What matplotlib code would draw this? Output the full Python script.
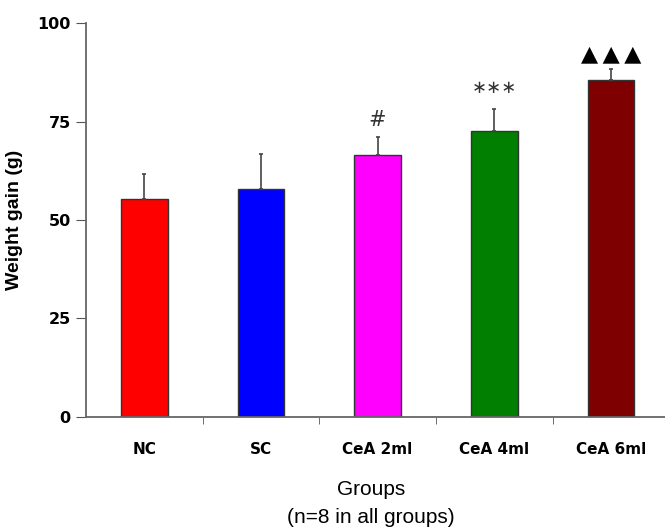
import matplotlib
matplotlib.use('Agg')
import matplotlib.pyplot as plt

plt.rcParams['font.family'] = ['Liberation Sans', 'DejaVu Sans']

groups = ['NC', 'SC', 'CeA 2ml', 'CeA 4ml', 'CeA 6ml']
means = [55.3, 58.0, 66.6, 72.6, 85.7]
errors = [6.5, 8.7, 4.6, 5.7, 2.6]
colors = ['#ff0000', '#0000ff', '#ff00ff', '#007f00', '#7f0000']
marks = ['', '', '#', '\u2217\u2217\u2217', '\u25b2\u2009\u25b2\u2009\u25b2']

fig = plt.figure(figsize=(6.65, 5.28), dpi=100)
ax = fig.add_axes([0.1293, 0.2108, 0.877, 0.745])

x = list(range(len(groups)))
ax.bar(x, means, width=0.4, color=colors, edgecolor='#333333', linewidth=1,
       yerr=[[0] * len(errors), errors], capsize=1.5,
       error_kw=dict(ecolor='#444444', elinewidth=1.2, capthick=1.2))

# significance marks above the error bars
offsets = [0, 0, 4.2, 5.3, 3.8]
sizes = [0, 0, 15, 13, 16]
for i, m in enumerate(marks):
    if not m:
        continue
    ax.text(i, means[i] + errors[i] + offsets[i], m, ha='center', va='center',
            fontsize=sizes[i], color='#333333' if i < 4 else 'black',
            family=['DejaVu Sans'])

ax.set_xlim(-0.5, 4.5)
ax.set_ylim(0, 100)
ax.set_yticks([0, 25, 50, 75, 100])
ax.set_yticklabels(['0', '25', '50', '75', '100'], fontweight='bold', fontsize=11.5,
                   family=['DejaVu Sans'])
ax.set_xticks(x)
ax.set_xticklabels(groups, fontweight='bold', fontsize=11, family=['DejaVu Sans'])
ax.set_xticks([i + 0.5 for i in range(len(groups))], minor=True)
ax.tick_params(axis='x', which='major', length=0, pad=18)
ax.tick_params(axis='x', which='minor', length=5, color='#555555', direction='out')
ax.tick_params(axis='y', length=7, color='#555555', direction='out', pad=4)

for s in ['top', 'right']:
    ax.spines[s].set_visible(False)
for s in ['left', 'bottom']:
    ax.spines[s].set_color('#666666')
    ax.spines[s].set_linewidth(1.3)

ax.set_ylabel('Weight gain (g)', fontweight='bold', fontsize=14, labelpad=10)
fig.text(0.558, 0.072, 'Groups', ha='center', va='center', fontsize=15)
fig.text(0.558, 0.019, '(n=8 in all groups)', ha='center', va='center', fontsize=15)

fig.savefig('out.png', dpi=100)
